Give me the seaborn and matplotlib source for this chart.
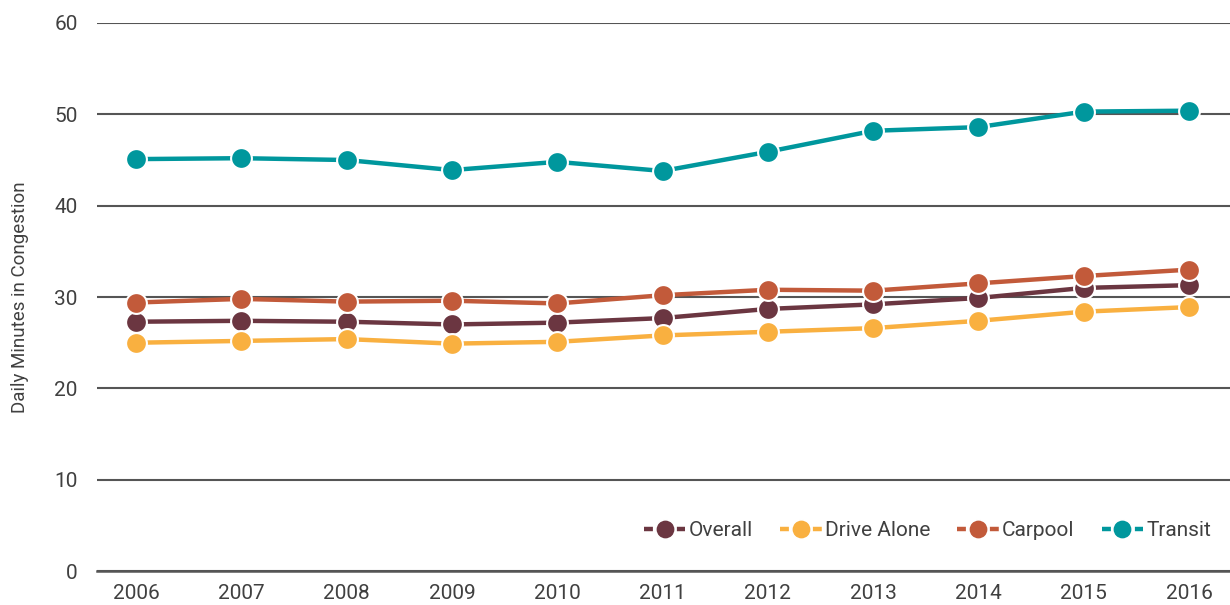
import matplotlib
matplotlib.use("Agg")
import matplotlib.pyplot as plt
import seaborn as sns
import pandas as pd
from matplotlib.lines import Line2D

years = [2006, 2007, 2008, 2009, 2010, 2011, 2012, 2013, 2014, 2015, 2016]
overall = [27.3, 27.4, 27.3, 27.0, 27.2, 27.7, 28.7, 29.2, 29.9, 31.0, 31.3]
drive_alone = [25.0, 25.2, 25.4, 24.9, 25.1, 25.8, 26.2, 26.6, 27.4, 28.4, 28.9]
carpool = [29.4, 29.8, 29.5, 29.6, 29.3, 30.2, 30.8, 30.7, 31.5, 32.3, 33.0]
transit = [45.1, 45.2, 45.0, 43.9, 44.8, 43.8, 45.9, 48.2, 48.6, 50.3, 50.4]

series_names = ["Overall", "Drive Alone", "Carpool", "Transit"]
colors = ["#6B3641", "#F9B040", "#C25A3A", "#00979D"]
yticks = [0, 10, 20, 30, 40, 50, 60]

df = pd.DataFrame({
    "Year": years * 4,
    "Minutes": overall + drive_alone + carpool + transit,
    "Mode": sum([[n] * len(years) for n in series_names], []),
})

sns.set_style("white")
plt.rcParams["font.family"] = ["Roboto", "DejaVu Sans"]
plt.rcParams["font.weight"] = "normal"
text_color = "#404040"

fig = plt.figure(figsize=(12.3, 6.05), dpi=100)
ax = fig.add_axes([0.079, 0.056, 0.921, 0.906])

for name, col in zip(series_names, colors):
    sub = df[df["Mode"] == name]
    sns.lineplot(data=sub, x="Year", y="Minutes", ax=ax, color=col, linewidth=3.2,
                 marker="o", markersize=15, markeredgecolor="white",
                 markeredgewidth=1.5, legend=False, zorder=3)

ax.set_ylim(0, 60)
ax.set_xlim(2005.63, 2016.39)
ax.set_yticks(yticks)
ax.set_xticks(years)
ax.set_xticklabels([str(y) for y in years])
ax.yaxis.grid(True, color="#555555", linewidth=1.5, zorder=1)
ax.xaxis.grid(False)
for s in ["top", "right", "left"]:
    ax.spines[s].set_visible(False)
ax.spines["bottom"].set_color("#555555")
ax.spines["bottom"].set_linewidth(1.8)
ax.tick_params(axis="both", length=0, labelsize=15, colors=text_color)
ax.tick_params(axis="y", pad=14)
ax.tick_params(axis="x", pad=9)
ax.set_xlabel("")
ax.set_ylabel("Daily Minutes in Congestion", fontsize=13.5, color=text_color, labelpad=18)

handles = [Line2D([0], [0], color=c, linestyle=(0, (2, 5.4)), linewidth=3.2,
                  marker="o", markersize=14, markeredgecolor="white", markeredgewidth=1.2)
           for c in colors]
leg = ax.legend(handles, series_names, loc="lower right", bbox_to_anchor=(1.0, 0.022),
                ncol=4, frameon=False, fontsize=15, handlelength=2.0, handletextpad=0.15,
                columnspacing=1.3, labelcolor=text_color)

fig.savefig("out.png", dpi=100)
